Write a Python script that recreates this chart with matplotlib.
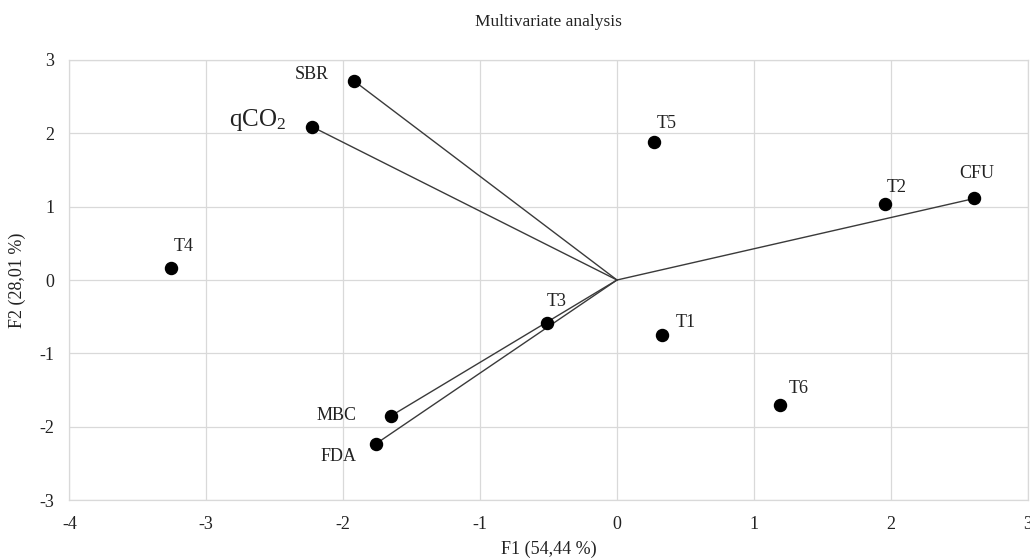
import matplotlib
matplotlib.use("Agg")
import matplotlib.pyplot as plt

plt.rcParams['font.family'] = ['Liberation Serif', 'DejaVu Serif']
plt.rcParams['mathtext.fontset'] = 'custom'
plt.rcParams['mathtext.rm'] = 'Liberation Serif'
plt.rcParams['mathtext.it'] = 'Liberation Serif:italic'
plt.rcParams['axes.unicode_minus'] = False

# Variables (vectors from origin)
var_names = ["SBR", "qCO$_2$", "CFU", "MBC", "FDA"]
var_x = [-1.92, -2.23, 2.61, -1.65, -1.76]
var_y = [2.71, 2.09, 1.11, -1.85, -2.23]

# Observations
obs_names = ["T1", "T2", "T3", "T4", "T5", "T6"]
obs_x = [0.33, 1.96, -0.51, -3.26, 0.27, 1.19]
obs_y = [-0.75, 1.03, -0.59, 0.17, 1.88, -1.70]

xticks = [-4, -3, -2, -1, 0, 1, 2, 3]
yticks = [-3, -2, -1, 0, 1, 2, 3]

fig = plt.figure(figsize=(10.30, 5.59), dpi=100)
ax = fig.add_axes([0.0673, 0.1050, 0.9305, 0.7882])

grid_c = '#d9d9d9'
ax.set_xlim(-4, 3)
ax.set_ylim(-3, 3)
ax.set_xticks(xticks)
ax.set_yticks(yticks)
ax.grid(True, color=grid_c, linewidth=0.9, zorder=0)
for s in ax.spines.values():
    s.set_color(grid_c)
    s.set_linewidth(0.9)
ax.tick_params(length=0, labelsize=13, colors='#404040', pad=11)
for lab in ax.get_xticklabels() + ax.get_yticklabels():
    lab.set_color('#222222')

for vx, vy in zip(var_x, var_y):
    ax.plot([0, vx], [0, vy], color='#3a3a3a', linewidth=1.0, zorder=2)

ax.scatter(var_x, var_y, s=75, color='black', zorder=3)
ax.scatter(obs_x, obs_y, s=75, color='black', zorder=3)

# label offsets in points (dx, dy, ha)
var_off = {
    "SBR": (-18, 5, 'right', 13),
    "qCO$_2$": (-18, 5, 'right', 18),
    "CFU": (2, 18, 'center', 13),
    "MBC": (-25, 0, 'right', 13),
    "FDA": (-14, -9, 'right', 13),
}
obs_off = {
    "T1": (10, 9, 'left'),
    "T2": (1, 12, 'left'),
    "T3": (0, 16, 'left'),
    "T4": (2, 15, 'left'),
    "T5": (2, 13, 'left'),
    "T6": (6, 12, 'left'),
}
for n, vx, vy in zip(var_names, var_x, var_y):
    dx, dy, ha, fs = var_off[n]
    ax.annotate(n, (vx, vy), xytext=(dx, dy), textcoords='offset points',
                ha=ha, va='center', fontsize=fs, color='#222222')
for n, ox, oy in zip(obs_names, obs_x, obs_y):
    dx, dy, ha = obs_off[n]
    ax.annotate(n, (ox, oy), xytext=(dx, dy), textcoords='offset points',
                ha=ha, va='center', fontsize=13, color='#222222')

fig.text(0.5325, 1 - 22 / 559, "Multivariate analysis", ha='center', va='center',
         fontsize=12.5, color='#222222')
fig.text(0.5325, 1 - 549 / 559, "F1 (54,44 %)", ha='center', va='center',
         fontsize=13, color='#222222')
fig.text(17 / 1030, 1 - 280 / 559, "F2 (28,01 %)", ha='center', va='center',
         rotation=90, fontsize=13, color='#222222')

fig.savefig("out.png", dpi=100)
